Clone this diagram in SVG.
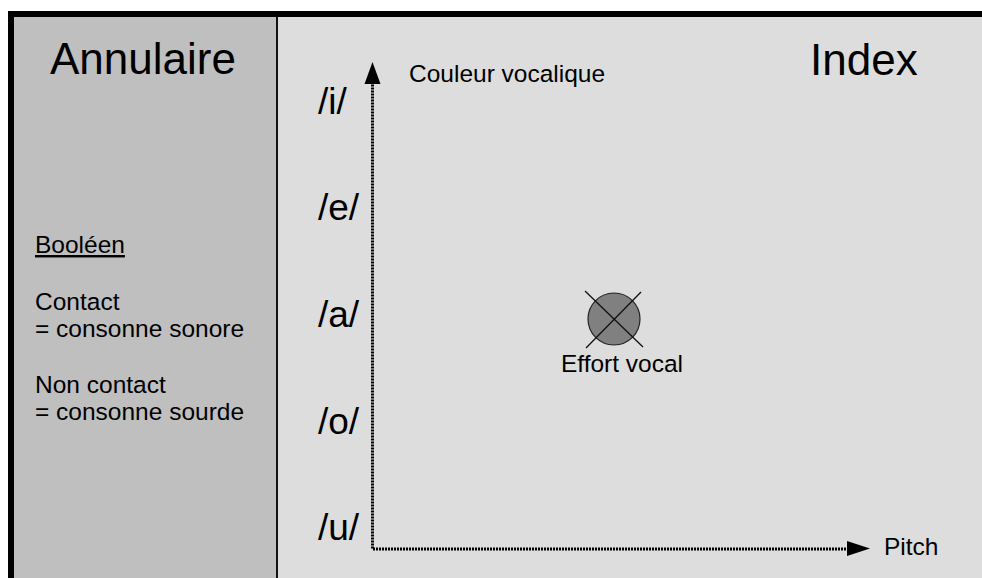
<svg xmlns="http://www.w3.org/2000/svg" width="982" height="578" viewBox="0 0 982 578">
  <style>
    text { font-family: "Liberation Sans", Arial, sans-serif; fill: #000; }
    .big { font-size: 44px; }
    .vow { font-size: 37px; }
    .sm { font-size: 24.5px; }
    .axis { fill: none; stroke: #000; stroke-width: 3; stroke-dasharray: 2 1; }
    .head { fill: #000; stroke: none; }
  </style>
  <rect x="0" y="0" width="982" height="578" fill="#ffffff"/>
  <g id="panel-index">
    <rect x="277" y="14" width="720" height="580" fill="#dddddd"/>
    <text class="big" x="810" y="75">Index</text>
  </g>
  <g id="panel-annulaire">
    <rect x="11" y="14" width="266" height="580" fill="#bfbfbf"/>
    <line x1="277" y1="14" x2="277" y2="578" stroke="#111" stroke-width="2"/>
    <text class="big" x="50" y="74">Annulaire</text>
    <text class="sm" x="35" y="253" text-decoration="underline">Booléen</text>
    <text class="sm" x="35" y="310">Contact</text>
    <text class="sm" x="35" y="337">= consonne sonore</text>
    <text class="sm" x="35" y="393">Non contact</text>
    <text class="sm" x="35" y="420">= consonne sourde</text>
  </g>
  <g id="frame">
    <rect x="11" y="14" width="990" height="590" fill="none" stroke="#000" stroke-width="6"/>
  </g>
  <g id="vowel-labels">
    <text class="vow" x="318" y="114">/i/</text>
    <text class="vow" x="318" y="220">/e/</text>
    <text class="vow" x="318" y="327">/a/</text>
    <text class="vow" x="318" y="434">/o/</text>
    <text class="vow" x="318" y="540">/u/</text>
  </g>
  <g id="connectors">
    <path class="axis" d="M372.5,548.5 L372.5,84"/>
    <path class="axis" d="M373,549 L848,549"/>
    <polygon class="head" points="372.5,62 364.5,84 380.5,84"/>
    <polygon class="head" points="870,548.5 847,541 847,556"/>
  </g>
  <g id="axis-labels">
    <text class="sm" x="409" y="82">Couleur vocalique</text>
    <text class="sm" x="884" y="555">Pitch</text>
  </g>
  <g id="effort-vocal">
    <circle cx="614" cy="319" r="26" fill="#808080" stroke="#222" stroke-width="1.2"/>
    <line x1="585" y1="291" x2="643" y2="347" stroke="#111" stroke-width="1.3"/>
    <line x1="641" y1="292" x2="586" y2="348" stroke="#111" stroke-width="1.3"/>
    <text class="sm" x="622" y="372" text-anchor="middle">Effort vocal</text>
  </g>
</svg>
